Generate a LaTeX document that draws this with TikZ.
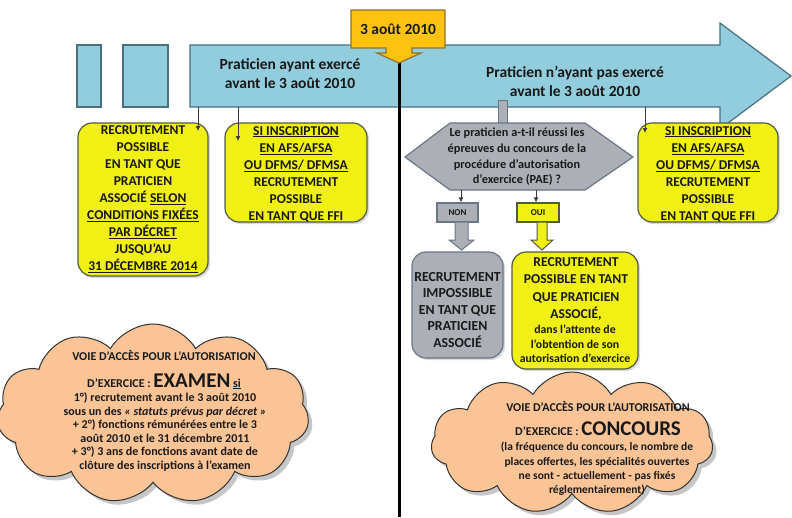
\documentclass[tikz,border=0pt]{standalone}
\usepackage{fontspec}
\setmainfont{Carlito}
\usetikzlibrary{shapes.symbols,shadows,arrows.meta}

\definecolor{bluefill}{RGB}{146,205,221}
\definecolor{blueline}{RGB}{72,112,128}
\definecolor{yel}{RGB}{240,240,20}
\definecolor{yelline}{RGB}{80,90,70}
\definecolor{grayfill}{RGB}{172,176,182}
\definecolor{grayline}{RGB}{105,118,135}
\definecolor{orangefill}{RGB}{255,194,14}
\definecolor{orangeline}{RGB}{140,115,50}
\definecolor{peach}{RGB}{250,196,150}
\definecolor{txt}{RGB}{25,25,25}

\newcommand{\fsz}[2]{\fontsize{#1}{#2}\selectfont\bfseries}

\begin{document}
\begin{tikzpicture}[x=1pt,y=-1pt,
  every node/.style={text=txt},
  blueshape/.style={fill=bluefill, draw=blueline, line width=1.2pt},
  ybox/.style={fill=yel, draw=yelline, line width=1.2pt, rounded corners=14pt,
    drop shadow={opacity=.3, shadow xshift=2pt, shadow yshift=-2pt}},
  gbox/.style={fill=grayfill, draw=grayline, line width=1.2pt, rounded corners=14pt,
    drop shadow={opacity=.3, shadow xshift=2pt, shadow yshift=-2pt}},
  smallbox/.style={line width=1.2pt, inner sep=0pt, font=\fsz{9}{11}},
  thinarrow/.style={draw=txt!85, line width=0.8pt, -{Latex[length=5pt,width=5pt]}},
  cloudshape/.style={cloud, cloud puffs=11, cloud puff arc=120, aspect=1.6,
    draw=black!80, line width=1pt, fill=peach, inner sep=0pt,
    drop shadow={opacity=.45, shadow xshift=4pt, shadow yshift=-4pt}},
  boxtext/.style={align=center, font=\fsz{13.5}{17}, inner sep=0pt},
]
\useasboundingbox (0,0) rectangle (792,517);

% blue timeline
\node[blueshape, minimum width=24pt, minimum height=62pt, inner sep=0pt] (r1) at (89,76) {};
\node[blueshape, minimum width=45pt, minimum height=62pt, inner sep=0pt] (r2) at (145.5,76) {};
\draw[blueshape] (190,45) -- (720,45) -- (720,23) -- (791,76) -- (720,129) -- (720,107) -- (190,107) -- cycle;
\coordinate (a1) at (198,107);
\coordinate (a2) at (238,107);
\coordinate (a3) at (645,107);

\node[align=center, font=\fsz{15.5}{19}, inner sep=0pt] (leftlab) at (290,74) {Praticien ayant exercé\\avant le 3 août 2010};
\node[align=center, font=\fsz{15.5}{19}, inner sep=0pt] (rightlab) at (575,81) {Praticien n’ayant pas exercé\\avant le 3 août 2010};

% vertical line
\coordinate (vtop) at (399,58);
\coordinate (vbot) at (399,517);
\draw[line width=3pt, black] (vtop) -- (vbot);

% callout
\draw[fill=orangefill, draw=orangeline, line width=1.2pt] (351,10) -- (445,10) -- (445,48) -- (412,48) -- (412,53) -- (421,53) -- (399,63) -- (377,53) -- (386,53) -- (386,48) -- (351,48) -- cycle;
\node[font=\fsz{15.5}{18}, inner sep=0pt] (date) at (398,29) {3 août 2010};

% yellow boxes top
\node[ybox, minimum width=130pt, minimum height=153pt] (b1) at (143,199.5) {};
\node[boxtext] (b1t) at (143,199.5) {RECRUTEMENT\\POSSIBLE\\EN TANT QUE\\PRATICIEN\\ASSOCIÉ \underline{SELON}\\\underline{CONDITIONS FIXÉES}\\\underline{PAR DÉCRET}\\JUSQU’AU\\\underline{31 DÉCEMBRE 2014}};

\node[ybox, minimum width=142pt, minimum height=99pt] (b2) at (296,172.5) {};
\node[boxtext] (b2t) at (296,174) {\underline{SI INSCRIPTION}\\\underline{EN AFS/AFSA}\\\underline{OU DFMS/ DFMSA}\\RECRUTEMENT\\POSSIBLE\\EN TANT QUE FFI};

\node[ybox, minimum width=140pt, minimum height=99pt] (b3) at (708,172.5) {};
\node[boxtext] (b3t) at (708,174) {\underline{SI INSCRIPTION}\\\underline{EN AFS/AFSA}\\\underline{OU DFMS/ DFMSA}\\RECRUTEMENT\\POSSIBLE\\EN TANT QUE FFI};

\coordinate (e1) at (198,131);
\coordinate (e2) at (238,141);
\coordinate (e3) at (645,133);
\draw[thinarrow] (a1) -- (e1);
\draw[thinarrow] (a2) -- (e2);
\draw[thinarrow] (a3) -- (e3);

% grey tab to question
\node[fill=grayfill, draw=grayline, line width=1pt, minimum width=9pt, minimum height=24pt, inner sep=0pt] (tab) at (502.5,112) {};

% question hexagon
\draw[fill=grayfill, draw=grayline, line width=1.2pt] (405,157) -- (450,123) -- (585,123) -- (633,157) -- (585,190) -- (450,190) -- cycle;
\node[align=center, font=\fsz{12.3}{15.7}, inner sep=0pt] (q) at (517,157) {Le praticien a-t-il réussi les\\épreuves du concours de la\\procédure d’autorisation\\d’exercice (PAE) ?};
\coordinate (q1) at (461,190);
\coordinate (q2) at (536,190);

% NON / OUI
\node[smallbox, fill=grayfill, draw=grayline, minimum width=41pt, minimum height=19pt] (non) at (457.5,212.5) {NON};
\node[smallbox, fill=yel, draw=yelline, minimum width=42pt, minimum height=19pt] (oui) at (538,212.5) {OUI};
\draw[thinarrow] (q1) -- (q1 |- non.north);
\draw[thinarrow] (q2) -- (q2 |- oui.north);

% block arrows
\draw[fill=grayfill, draw=grayline, line width=1pt] (455,222) -- (468,222) -- (468,240) -- (474,240) -- (461.5,250) -- (449,240) -- (455,240) -- cycle;
\draw[fill=yel, draw=yelline, line width=1pt] (537,222) -- (547,222) -- (547,240) -- (553,240) -- (542,250) -- (531,240) -- (537,240) -- cycle;

% result boxes
\node[gbox, minimum width=91pt, minimum height=106pt] (g) at (457.5,305) {};
\node[boxtext, font=\fsz{13.8}{16.5}] (gt) at (457.5,310) {RECRUTEMENT\\IMPOSSIBLE\\EN TANT QUE\\PRATICIEN\\ASSOCIÉ};

\node[ybox, minimum width=126pt, minimum height=117pt] (y) at (575,310.5) {};
\node[boxtext, font=\fsz{13.6}{17.3}] (yt1) at (576,289) {RECRUTEMENT\\POSSIBLE EN TANT\\QUE PRATICIEN\\ASSOCIÉ,};
\node[boxtext, font=\fsz{11.8}{14.5}] (yt2) at (575,344) {dans l’attente de\\l’obtention de son\\autorisation d’exercice};

% clouds
\node[cloudshape, minimum width=312pt, minimum height=180pt] (c1) at (153,414) {};
\node[anchor=base, font=\fsz{12}{13}, inner sep=0pt] (c1a) at (164,360.5) {VOIE D’ACCÈS POUR L’AUTORISATION};
\node[anchor=base, font=\fsz{12}{13}, inner sep=0pt] (c1b) at (164,387) {D’EXERCICE : {\fontsize{21}{24}\selectfont EXAMEN} \underline{si}};
\node[align=center, font=\fsz{12}{13.5}, inner sep=0pt] (c1c) at (165,432) {1°) recrutement avant le 3 août 2010\\sous un des \textit{« statuts prévus par décret »}\\+ 2°) fonctions rémunérées entre le 3\\août 2010 et le 31 décembre 2011\\+ 3°) 3 ans de fonctions avant date de\\clôture des inscriptions à l’examen};

\node[cloudshape, minimum width=282pt, minimum height=142pt] (c2) at (572,443) {};
\node[anchor=base, font=\fsz{12}{13}, inner sep=0pt] (c2a) at (598,411.5) {VOIE D’ACCÈS POUR L’AUTORISATION};
\node[anchor=base, font=\fsz{12}{13}, inner sep=0pt] (c2b) at (598,435) {D’EXERCICE : {\fontsize{21}{24}\selectfont CONCOURS}};
\node[align=center, font=\fsz{11.5}{14.3}, inner sep=0pt] (c2c) at (597,469) {(la fréquence du concours, le nombre de\\places offertes, les spécialités ouvertes\\ne sont - actuellement - pas fixés\\réglementairement)};
\end{tikzpicture}
\end{document}
